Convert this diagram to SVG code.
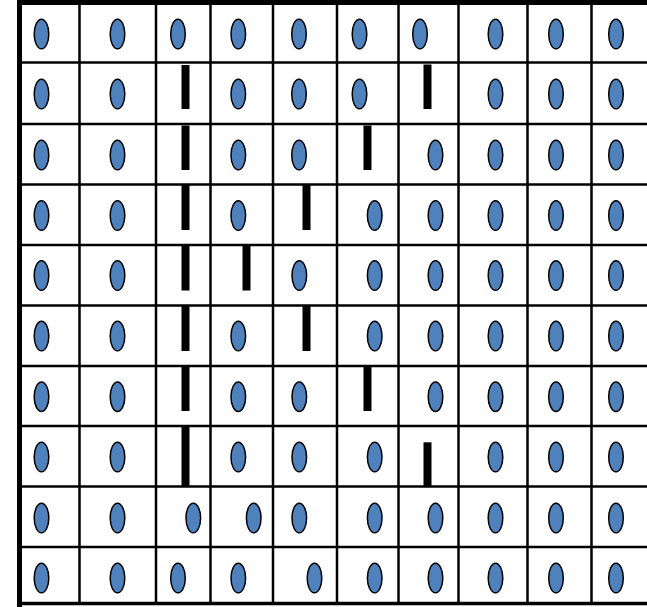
<svg xmlns="http://www.w3.org/2000/svg" width="647" height="607" viewBox="0 0 647 607">
<style>
.g{stroke:#000;stroke-width:2.5;fill:none}
.e{fill:#4F81BD;stroke:#000;stroke-width:1.5}
.b{fill:#000}
</style>
<defs>
<ellipse id="o" class="e" cx="0" cy="0" rx="7.3" ry="14.8"/>
</defs>
<rect width="647" height="607" fill="#fff"/>
<g id="grid">
<rect x="17" y="0" width="630" height="5" fill="#000"/>
<rect x="17" y="0" width="5" height="607" fill="#000"/>
<line class="g" x1="19" y1="603.5" x2="647" y2="603.5" style="stroke-width:3.5"/>
<path class="g" d="M19 62.5H647M19 124H647M19 184.5H647M19 245H647M19 305.5H647M19 366H647M19 426H647M19 486.5H647M19 547H647"/>
<path class="g" d="M79.5 0V605M156 0V605M210.5 0V605M273 0V605M337 0V605M398.5 0V605M458.5 0V605M527.5 0V605M591.5 0V605"/>
</g>
<g id="row1">
<use href="#o" x="41.5" y="34"/><use href="#o" x="117.5" y="34"/><use href="#o" x="178" y="34"/><use href="#o" x="238.3" y="34"/><use href="#o" x="299" y="34"/><use href="#o" x="359.5" y="34"/><use href="#o" x="420" y="34"/><use href="#o" x="495.5" y="34"/><use href="#o" x="556" y="34"/><use href="#o" x="616" y="34"/>
</g>
<g id="row2">
<use href="#o" x="41.5" y="94"/><use href="#o" x="117.5" y="94"/><rect class="b" x="181.5" y="65" width="8" height="44"/><use href="#o" x="238.3" y="94"/><use href="#o" x="299" y="94"/><use href="#o" x="359.5" y="94"/><rect class="b" x="423.5" y="64.5" width="8" height="44.5"/><use href="#o" x="495.5" y="94"/><use href="#o" x="556" y="94"/><use href="#o" x="616" y="94"/>
</g>
<g id="row3">
<use href="#o" x="41.5" y="155"/><use href="#o" x="117.5" y="155"/><rect class="b" x="181.5" y="125.5" width="8" height="44.5"/><use href="#o" x="238.3" y="155"/><use href="#o" x="299" y="155"/><rect class="b" x="363.5" y="125.5" width="8" height="44.5"/><use href="#o" x="435.5" y="155"/><use href="#o" x="495.5" y="155"/><use href="#o" x="556" y="155"/><use href="#o" x="616" y="155"/>
</g>
<g id="row4">
<use href="#o" x="41.5" y="215.5"/><use href="#o" x="117.5" y="215.5"/><rect class="b" x="181.5" y="185" width="8" height="45"/><use href="#o" x="238.3" y="215.5"/><rect class="b" x="302.5" y="185" width="8" height="45"/><use href="#o" x="374.7" y="215.5"/><use href="#o" x="435.5" y="215.5"/><use href="#o" x="495.5" y="215.5"/><use href="#o" x="556" y="215.5"/><use href="#o" x="616" y="215.5"/>
</g>
<g id="row5">
<use href="#o" x="41.5" y="275.5"/><use href="#o" x="117.5" y="275.5"/><rect class="b" x="181.5" y="245.5" width="8" height="45"/><rect class="b" x="242.5" y="245.5" width="8" height="45"/><use href="#o" x="299.3" y="275.5"/><use href="#o" x="374.7" y="275.5"/><use href="#o" x="435.5" y="275.5"/><use href="#o" x="495.5" y="275.5"/><use href="#o" x="556" y="275.5"/><use href="#o" x="616" y="275.5"/>
</g>
<g id="row6">
<use href="#o" x="41.5" y="336"/><use href="#o" x="117.5" y="336"/><rect class="b" x="181.5" y="306" width="8" height="45"/><use href="#o" x="238.3" y="336"/><rect class="b" x="302.5" y="306" width="8" height="45"/><use href="#o" x="374.7" y="336"/><use href="#o" x="435.5" y="336"/><use href="#o" x="495.5" y="336"/><use href="#o" x="556" y="336"/><use href="#o" x="616" y="336"/>
</g>
<g id="row7">
<use href="#o" x="41.5" y="396.7"/><use href="#o" x="117.5" y="396.7"/><rect class="b" x="181.5" y="366.7" width="8" height="44.3"/><use href="#o" x="238.3" y="396.7"/><use href="#o" x="299.3" y="396.7"/><rect class="b" x="363.5" y="366.7" width="8" height="44.3"/><use href="#o" x="435.5" y="396.7"/><use href="#o" x="495.5" y="396.7"/><use href="#o" x="556" y="396.7"/><use href="#o" x="616" y="396.7"/>
</g>
<g id="row8">
<use href="#o" x="41.5" y="457"/><use href="#o" x="117.5" y="457"/><rect class="b" x="181.5" y="427" width="8" height="59"/><use href="#o" x="238.3" y="457"/><use href="#o" x="299.3" y="457"/><use href="#o" x="374.7" y="457"/><rect class="b" x="423.5" y="442.3" width="8" height="43.7"/><use href="#o" x="495.5" y="457"/><use href="#o" x="556" y="457"/><use href="#o" x="616" y="457"/>
</g>
<g id="row9">
<use href="#o" x="41.5" y="518"/><use href="#o" x="117.5" y="518"/><use href="#o" x="193.3" y="518"/><use href="#o" x="253.7" y="518"/><use href="#o" x="299.3" y="518"/><use href="#o" x="374.7" y="518"/><use href="#o" x="435.5" y="518"/><use href="#o" x="495.5" y="518"/><use href="#o" x="556" y="518"/><use href="#o" x="616" y="518"/>
</g>
<g id="row10">
<use href="#o" x="41.5" y="578"/><use href="#o" x="117.5" y="578"/><use href="#o" x="178" y="578"/><use href="#o" x="238.3" y="578"/><use href="#o" x="314.5" y="578"/><use href="#o" x="374.7" y="578"/><use href="#o" x="435.5" y="578"/><use href="#o" x="495.5" y="578"/><use href="#o" x="556" y="578"/><use href="#o" x="616" y="578"/>
</g>
</svg>
